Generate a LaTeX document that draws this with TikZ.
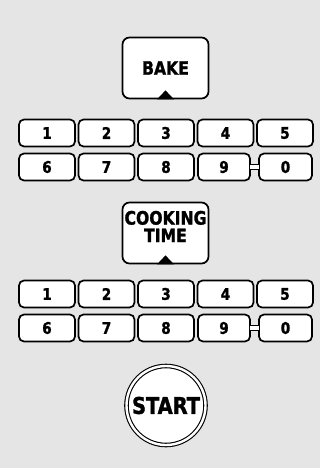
\documentclass[tikz,border=0pt]{standalone}
\usepackage{fontspec}
\setmainfont{Liberation Sans}
\newfontfamily\keyfont[FakeBold=1.4,FakeStretch=0.94]{DejaVu Sans Condensed}
\usetikzlibrary{positioning,calc}
\definecolor{panelGray}{HTML}{E5E5E5}
\newcommand{\keyface}[2]{\keyfont\bfseries\fontsize{#1}{#2}\selectfont}
\tikzset{
  numkey/.style={draw,fill=white,line width=1.7pt,rounded corners=5pt,
    minimum width=56pt,minimum height=27pt,inner sep=0pt,font=\keyface{16}{16}},
  modekey/.style={draw,fill=white,line width=1.7pt,rounded corners=7pt,
    minimum width=86pt,minimum height=61pt,inner sep=0pt},
  startkey/.style={circle,draw,fill=white,line width=1.1pt,double=white,
    double distance=2.4pt,minimum size=79pt,inner sep=0pt,font=\keyface{23}{23}},
  marker/.style={fill=black}
}

\begin{document}
\begin{tikzpicture}[x=1pt,y=-1pt]
  \fill[panelGray] (0,0) rectangle (320,468);

  % bake
  \node[modekey,font=\keyface{18.5}{18.5}] (bake) at (165.5,68) {BAKE};
  \fill[marker] ($(bake.south)+(-8.5,0)$) -- ++(8.5,-9) -- ++(8.5,9) -- cycle;

  % cooking time
  \node[modekey] (cook) at (165.5,233) {};
  \node[font=\keyface{18.5}{17.5},align=center,inner sep=0pt] (cooktext) at (165.5,226.5) {COOKING\\TIME};
  \fill[marker] ($(cook.south)+(-8.5,0)$) -- ++(8.5,-9) -- ++(8.5,9) -- cycle;

  % number pads
  \foreach \pad/\top in {a/133,b/294}{
    \foreach \d [count=\i from 0] in {1,2,3,4}
      \node[numkey] (\pad\d) at (47+59.5*\i,\top) {\d};
    \node[numkey] (\pad5) at (285,\top) {5};
    \foreach \d [count=\i from 0] in {6,7,8}
      \node[numkey] (\pad\d) at (47+59.5*\i,\top+34) {\d};
    \node[numkey,minimum width=52pt] (\pad9) at (224,\top+34) {9};
    \node[numkey,minimum width=53pt] (\pad0) at (285.5,\top+34) {0};
    % link between 9 and 0
    \fill[white] ($(\pad9.east)+(-1,-2.5)$) rectangle ($(\pad0.west)+(1,2.5)$);
    \draw[line width=1.3pt] ($(\pad9.east)+(-0.8,-2.5)$) -- ($(\pad0.west)+(0.8,-2.5)$);
    \draw[line width=1.3pt] ($(\pad9.east)+(-0.8,2.5)$) -- ($(\pad0.west)+(0.8,2.5)$);
  }

  \node[startkey] (start) at (166,405.5) {START};
\end{tikzpicture}
\end{document}
